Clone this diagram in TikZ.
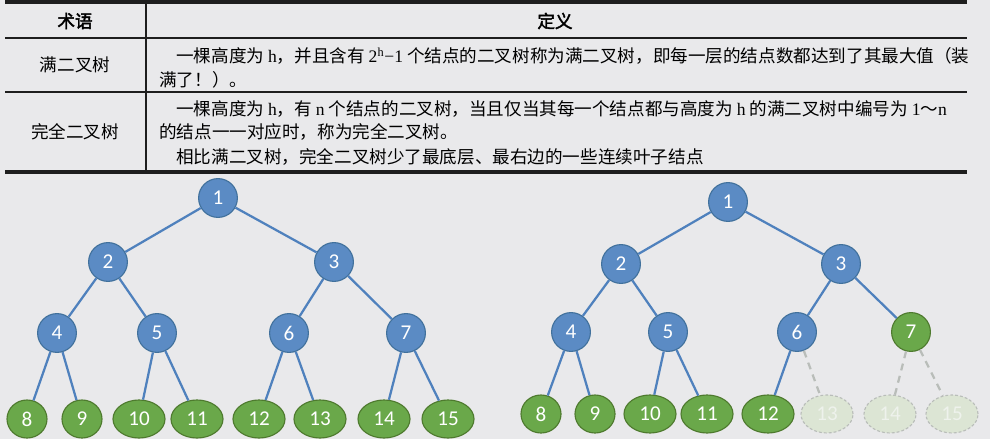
\documentclass[tikz,border=0pt]{standalone}
\usepackage{fontspec}
\setmainfont{Liberation Serif}
\newfontfamily\cjk{Noto Sans CJK SC}[AutoFakeBold=2.5]
\newfontfamily\numfont{Carlito}
\usetikzlibrary{shapes.geometric}

\definecolor{pageBg}{HTML}{E9E9EB}
\definecolor{ruleInk}{HTML}{1E1E1E}
\definecolor{innerFill}{HTML}{5B8BC4}
\definecolor{innerLine}{HTML}{41719C}
\definecolor{edgeBlue}{HTML}{4F81BD}
\definecolor{leafFill}{HTML}{6AA84A}
\definecolor{leafLine}{HTML}{4E7A2E}
\definecolor{ghostFill}{HTML}{DCE5D4}
\definecolor{ghostLine}{HTML}{B9BDB9}
\definecolor{ghostText}{HTML}{EEF2EC}

\begin{document}
\begin{tikzpicture}[x=0.025cm, y=-0.025cm]
	% Node styles
	\tikzstyle{inner} = [circle, draw=innerLine, fill=innerFill, line width=0.8pt, minimum size=0.97cm, inner sep=0pt, text=white, font=\numfont\fontsize{15}{17}\selectfont]
	\tikzstyle{leaf} = [ellipse, draw=leafLine, fill=leafFill, line width=0.8pt, minimum width=1.0cm, minimum height=0.95cm, inner sep=0pt, text=white, font=\numfont\fontsize{15}{17}\selectfont]
	\tikzstyle{wide} = [minimum width=1.3cm]
	\tikzstyle{ghost} = [leaf, wide, draw=ghostLine, fill=ghostFill, text=ghostText, dash pattern=on 2pt off 1.5pt]
	\tikzstyle{link} = [line width=1.6pt, draw=edgeBlue]
	\tikzstyle{ghostLink} = [line width=1.6pt, draw=ghostLine, dash pattern=on 5pt off 4pt]
	\tikzstyle{cell} = [inner sep=0pt, font=\cjk\fontsize{12.5}{14}\selectfont]
	\tikzstyle{line} = [cell, anchor=west]
	
	% Page
	\fill[pageBg] (0,0) rectangle (990,439);
	\useasboundingbox (0,0) rectangle (990,439);
	
	% Table rules
	\draw[ruleInk, line width=2.2pt] (5,2) -- (967,2);
	\draw[ruleInk, line width=1.2pt] (5,38) -- (967,38);
	\draw[ruleInk, line width=1.2pt] (5,92) -- (967,92);
	\draw[ruleInk, line width=2.2pt] (5,172) -- (967,172);
	\draw[ruleInk, line width=1pt] (146,2) -- (146,172);
	
	% Table text
	\node[cell] (termHead) at (75,21) {\bfseries 术语};
	\node[cell] (defHead) at (555,21) {\bfseries 定义};
	\node[cell] (fullTerm) at (75,65) {满二叉树};
	\node[cell] (compTerm) at (75,132) {完全二叉树};
	\node[line] (fullDefA) at (176,56) {一棵高度为 {\rmfamily h}，并且含有 {\rmfamily 2\textsuperscript{h}−1} 个结点的二叉树称为满二叉树，即每一层的结点数都达到了其最大值（装};
	\node[line] (fullDefB) at (159,80) {满了！）。};
	\node[line] (compDefA) at (176,109) {一棵高度为 {\rmfamily h}，有 {\rmfamily n} 个结点的二叉树，当且仅当其每一个结点都与高度为 {\rmfamily h} 的满二叉树中编号为 {\rmfamily 1}～{\rmfamily n}};
	\node[line] (compDefB) at (159,132) {的结点一一对应时，称为完全二叉树。};
	\node[line] (compDefC) at (176,157) {相比满二叉树，完全二叉树少了最底层、最右边的一些连续叶子结点};
	
	% Full binary tree
	\node[inner] (full1) at (218,198) {1};
	\node[inner] (full2) at (108,262) {2};
	\node[inner] (full3) at (334,262) {3};
	\node[inner] (full4) at (57,333) {4};
	\node[inner] (full5) at (157,333) {5};
	\node[inner] (full6) at (289,333) {6};
	\node[inner] (full7) at (406,333) {7};
	\node[leaf] (full8) at (27,419) {8};
	\node[leaf] (full9) at (82,419) {9};
	\node[leaf, wide] (full10) at (139,419) {10};
	\node[leaf, wide] (full11) at (197,419) {11};
	\node[leaf, wide] (full12) at (259,419) {12};
	\node[leaf, wide] (full13) at (320,419) {13};
	\node[leaf, wide] (full14) at (384,419) {14};
	\node[leaf, wide] (full15) at (448,419) {15};
	
	% Complete binary tree
	\node[inner] (comp1) at (728,202) {1};
	\node[inner] (comp2) at (621,264) {2};
	\node[inner] (comp3) at (841,264) {3};
	\node[inner] (comp4) at (571,332) {4};
	\node[inner] (comp5) at (668,332) {5};
	\node[inner] (comp6) at (797,332) {6};
	\node[inner, draw=leafLine, fill=leafFill] (comp7) at (911,332) {7};
	\node[leaf] (comp8) at (541,414) {8};
	\node[leaf] (comp9) at (595,414) {9};
	\node[leaf, wide] (comp10) at (650,414) {10};
	\node[leaf, wide] (comp11) at (707,414) {11};
	\node[leaf, wide] (comp12) at (768,414) {12};
	\node[ghost] (comp13) at (827,414) {13};
	\node[ghost] (comp14) at (890,414) {14};
	\node[ghost] (comp15) at (952,414) {15};
	
	% Edges
	\draw[link] (full1) -- (full2) (full1) -- (full3)
		(full2) -- (full4) (full2) -- (full5) (full3) -- (full6) (full3) -- (full7)
		(full4) -- (full8) (full4) -- (full9) (full5) -- (full10) (full5) -- (full11)
		(full6) -- (full12) (full6) -- (full13) (full7) -- (full14) (full7) -- (full15);
	\draw[link] (comp1) -- (comp2) (comp1) -- (comp3)
		(comp2) -- (comp4) (comp2) -- (comp5) (comp3) -- (comp6) (comp3) -- (comp7)
		(comp4) -- (comp8) (comp4) -- (comp9) (comp5) -- (comp10) (comp5) -- (comp11)
		(comp6) -- (comp12);
	\draw[ghostLink] (comp6) -- (comp13) (comp7) -- (comp14) (comp7) -- (comp15);
\end{tikzpicture}
\end{document}
